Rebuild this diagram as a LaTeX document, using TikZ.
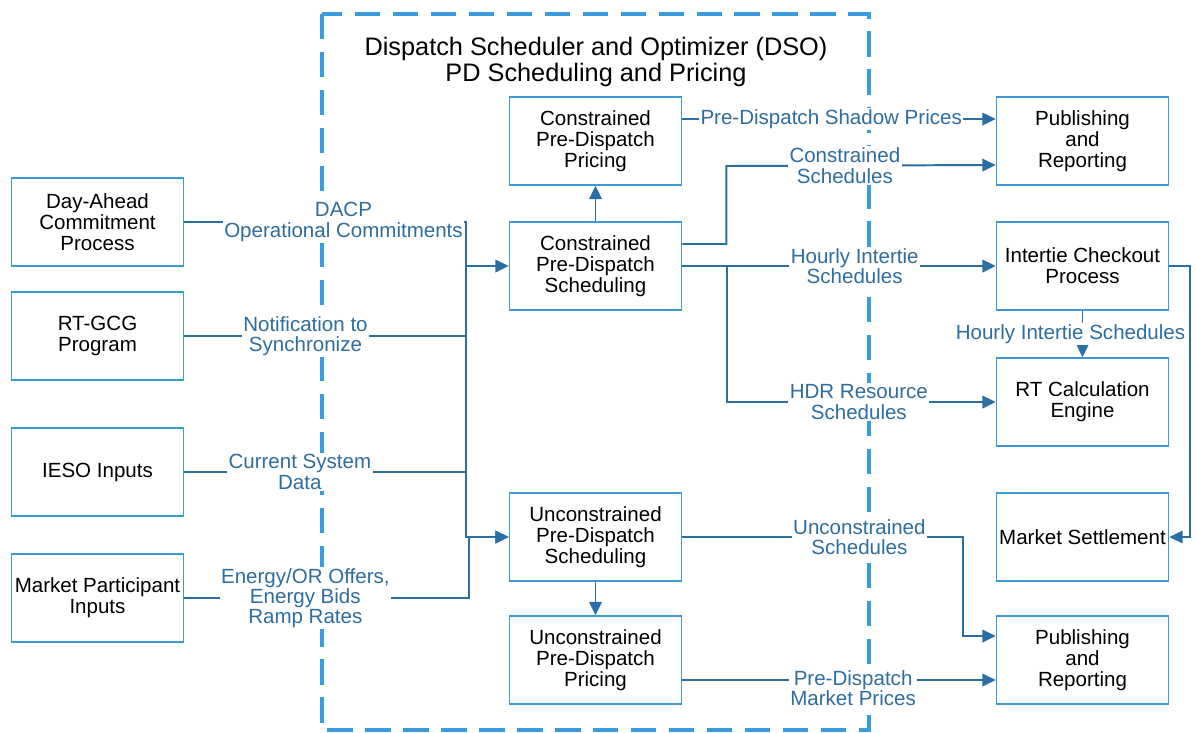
\documentclass[tikz,border=0pt]{standalone}
\usepackage{fontspec}
\setmainfont{Liberation Sans}
\usetikzlibrary{calc}
\usetikzlibrary{arrows.meta}

\definecolor{boxblue}{HTML}{3D9AD6}
\definecolor{dashblue}{HTML}{3A9BDC}
\definecolor{linkblue}{HTML}{2A6FA3}
\definecolor{textblue}{HTML}{2E6DA0}

\begin{document}
\begin{tikzpicture}[->,>={Triangle[length=9.5pt,width=9pt]},x=0.025cm,y=-0.025cm,
  color=linkblue,line width=1.4pt,
  proc node/.style={rectangle,draw=boxblue,line width=1.2pt,fill=white,
  text=black,align=center,inner sep=0pt,minimum width=4.3cm,
  minimum height=2.2cm,font=\fontsize{14.6}{14.9}\selectfont},
  flow label/.style={fill=white,text=textblue,align=center,inner sep=1pt,
  font=\fontsize{14.6}{14.4}\selectfont}]
  \useasboundingbox (0,0) rectangle (1196,732);

  % DSO frame
  \draw[-,dashblue,line width=2.4pt,dash pattern=on 18pt off 9pt]
    (322,14) rectangle (869,730);
  \node[text=black,align=center,font=\fontsize{18}{18.4}\selectfont] (T)
    at (596,62) {Dispatch Scheduler and Optimizer (DSO)\\PD Scheduling and Pricing};

  % inputs
  \node[proc node] (DA) at (97.5,222) {Day-Ahead\\Commitment\\Process};
  \node[proc node] (RTG) at (97.5,336) {RT-GCG\\Program};
  \node[proc node] (IE) at (97.5,472) {IESO Inputs};
  \node[proc node] (MP) at (97.5,598) {Market Participant\\Inputs};

  % DSO
  \node[proc node] (CP) at (595.5,141) {Constrained\\Pre-Dispatch\\Pricing};
  \node[proc node] (CS) at (595.5,266) {Constrained\\Pre-Dispatch\\Scheduling};
  \node[proc node] (US) at (595.5,537) {Unconstrained\\Pre-Dispatch\\Scheduling};
  \node[proc node] (UP) at (595.5,660) {Unconstrained\\Pre-Dispatch\\Pricing};

  % outputs
  \node[proc node] (PR) at (1082.5,141) {Publishing\\and\\Reporting};
  \node[proc node] (IC) at (1082.5,266) {Intertie Checkout\\Process};
  \node[proc node] (RT) at (1082.5,402) {RT Calculation\\Engine};
  \node[proc node] (MS) at (1082.5,537) {Market Settlement};
  \node[proc node] (PB) at (1082.5,660) {Publishing\\and\\Reporting};

  \coordinate (bus) at (466,0);

  % inputs into the bus
  \draw (DA.east) -- node[flow label,pos=.565] {DACP\\Operational Commitments}
    (DA.east -| bus) |- (CS.west);
  \draw (bus |- CS.west) |- (US.west);
  \draw[-] (RTG.east) -- node[flow label,pos=.43] {Notification to\\Synchronize}
    (RTG.east -| bus);
  \draw[-] (IE.east) -- node[flow label,pos=.41] {Current System\\Data}
    (IE.east -| bus);
  \draw (MP.east) -- node[flow label,pos=.425] {Energy/OR Offers,\\Energy Bids\\Ramp Rates}
    ($(MP.east -| bus)+(3,0)$) |- (US.west);

  % inside DSO
  \draw (CS.north) -- (CP.south);
  \draw (US.south) -- (UP.north);

  % outputs
  \draw ($(CP.east)+(0,-22)$) -- node[flow label,pos=.475] {Pre-Dispatch Shadow Prices}
    ($(PR.west)+(0,-22)$);
  \draw ($(CS.east)+(0,-22)$) -| ++(44,-78) -- node[flow label,pos=.44]
    {Constrained\\Schedules} ($(PR.west)+(0,24)$);
  \draw (CS.east) -- node[flow label,pos=.55] {Hourly Intertie\\Schedules} (IC.west);
  \draw ($(CS.east)+(45,0)$) |- node[flow label,pos=.745] {HDR Resource\\Schedules}
    (RT.west);
  \draw (IC.south) -- node[flow label,xshift=-0.3cm] {Hourly Intertie Schedules}
    (RT.north);
  \draw (IC.east) -- ++(21,0) |- (MS.east);
  \draw (US.east) -- node[flow label,pos=.63] {Unconstrained\\Schedules} ++(281,0)
    |- ($(PB.west)+(0,-24)$);
  \draw ($(UP.east)+(0,20)$) -- node[flow label,pos=.545,yshift=-0.2cm]
    {Pre-Dispatch\\Market Prices} ($(PB.west)+(0,20)$);
\end{tikzpicture}
\end{document}
